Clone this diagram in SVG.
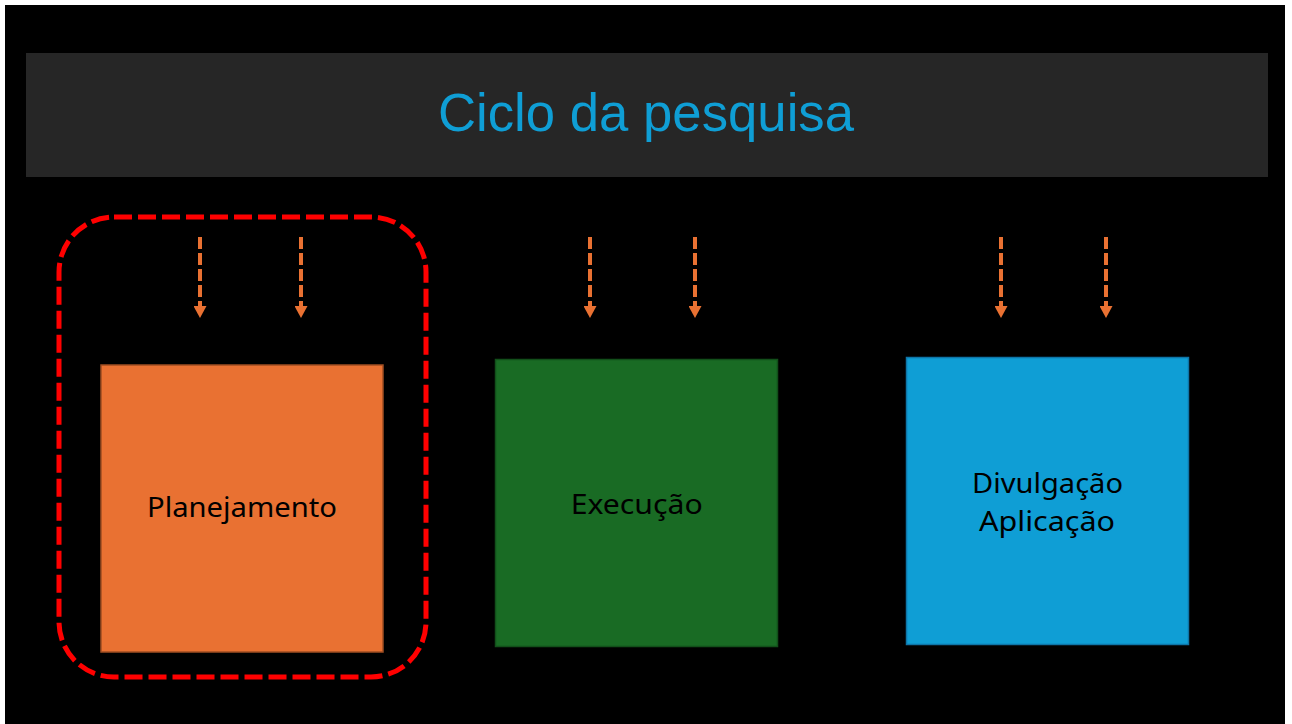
<svg xmlns="http://www.w3.org/2000/svg" width="1292" height="724" viewBox="0 0 1292 724">
  <style>
    .lbl { font-family: "Noto Sans", "Liberation Sans", sans-serif; font-size: 28px; fill: #000000; text-anchor: middle; }
    .title { font-family: "Liberation Sans", "Noto Sans", sans-serif; font-size: 53px; fill: #0F9ED5; text-anchor: middle; }
    .arrow { stroke: #E97132; stroke-width: 4; stroke-dasharray: 12 4; fill: none; }
  </style>
  <defs>
    <marker id="ah" markerUnits="userSpaceOnUse" markerWidth="13" markerHeight="13" viewBox="0 0 13 13" refX="1" refY="6.5" orient="auto">
      <path d="M0,0 L12,6.5 L0,13 z" fill="#E97132"/>
    </marker>
  </defs>
  <rect x="0" y="0" width="1292" height="724" fill="#FFFFFF"/>
  <rect x="5" y="5" width="1280" height="719" fill="#000000"/>
  <g id="header">
    <rect x="26" y="53" width="1242" height="124" fill="#262626"/>
    <text class="title" x="646" y="131" textLength="416" lengthAdjust="spacingAndGlyphs">Ciclo da pesquisa</text>
  </g>
  <g id="highlight">
    <rect x="59" y="217" width="367" height="460" rx="55" ry="55" fill="none" stroke="#FF0000" stroke-width="5" stroke-dasharray="18 6"/>
  </g>
  <g id="planejamento">
    <rect x="101" y="365" width="282" height="287" fill="#E97132" stroke="#A04E22" stroke-width="1.5"/>
    <text class="lbl" x="242" y="517" textLength="190" lengthAdjust="spacingAndGlyphs">Planejamento</text>
  </g>
  <g id="execucao">
    <rect x="495.5" y="359.5" width="282" height="287" fill="#196B24" stroke="#124F1A" stroke-width="1.5"/>
    <text class="lbl" x="636.7" y="514" textLength="132" lengthAdjust="spacingAndGlyphs">Execução</text>
  </g>
  <g id="divulgacao">
    <rect x="906.5" y="357.5" width="282" height="287" fill="#0F9ED5" stroke="#0E75A8" stroke-width="1.5"/>
    <text class="lbl" x="1047.5" y="493" textLength="151" lengthAdjust="spacingAndGlyphs">Divulgação</text>
    <text class="lbl" x="1047" y="531" textLength="136" lengthAdjust="spacingAndGlyphs">Aplicação</text>
  </g>
  <g id="connectors">
    <line class="arrow" x1="200" y1="237" x2="200" y2="307" marker-end="url(#ah)"/>
    <line class="arrow" x1="301" y1="237" x2="301" y2="307" marker-end="url(#ah)"/>
    <line class="arrow" x1="590" y1="237" x2="590" y2="307" marker-end="url(#ah)"/>
    <line class="arrow" x1="695" y1="237" x2="695" y2="307" marker-end="url(#ah)"/>
    <line class="arrow" x1="1001" y1="237" x2="1001" y2="307" marker-end="url(#ah)"/>
    <line class="arrow" x1="1106" y1="237" x2="1106" y2="307" marker-end="url(#ah)"/>
  </g>
</svg>
